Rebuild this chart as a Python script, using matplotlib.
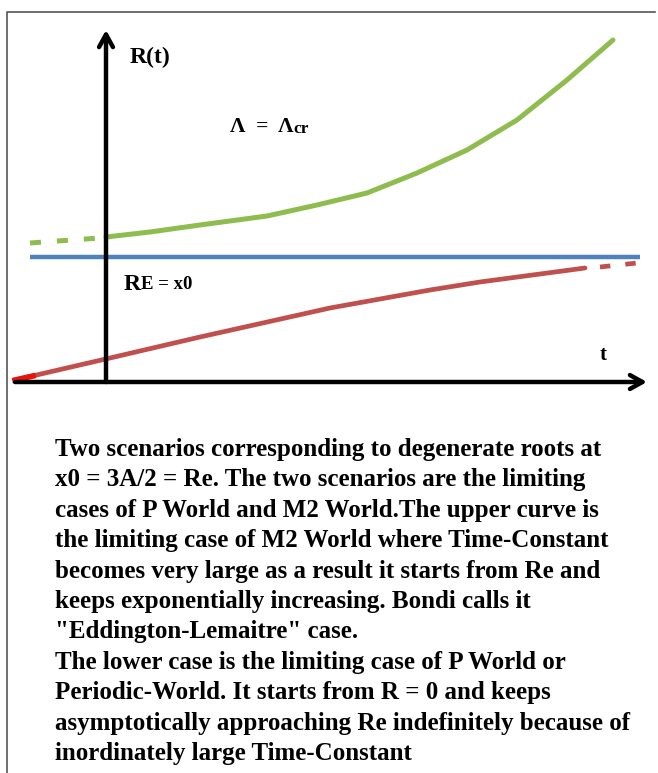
import matplotlib

matplotlib.use("Agg")
import matplotlib.pyplot as plt

plt.rcParams.update(
    {
        "font.family": ["Liberation Serif", "DejaVu Serif"],
        "font.weight": "bold",
    }
)

W, H = 658, 773

# diagram data (t, R) in arbitrary units, origin at the axis crossing
green_dash_t = [-76, -6]
green_dash_r = [139, 144]
green_t = [0, 44, 94, 161, 211, 261, 311, 361, 411, 461, 507]
green_r = [145, 150, 157, 166, 177, 189, 209, 232, 262, 302, 342]

blue_t = [-76, 534]
blue_r = [125, 125]

red_t = [-91, 4, 94, 224, 324, 374, 479]
red_r = [2, 24, 45, 74, 92, 100, 114]
red_dash_t = [494, 531]
red_dash_r = [115, 119]

caption = [
    "Two scenarios corresponding to degenerate roots at",
    "x0 = 3A/2 = Re. The two scenarios are the limiting",
    "cases of P World and M2 World.The upper curve is",
    "the limiting case of M2 World where Time-Constant",
    "becomes very large as a result it starts from Re and",
    "keeps exponentially increasing. Bondi calls it",
    "\"Eddington-Lemaitre\" case.",
    "The lower case is the limiting case of P World or",
    "Periodic-World. It starts from R = 0 and keeps",
    "asymptotically approaching Re indefinitely because of",
    "inordinately large Time-Constant",
]

GREEN = "#8fbc4f"
BLUE = "#4f81bd"
RED = "#c0504d"

fig = plt.figure(figsize=(W / 100, H / 100), dpi=100)

# background layer: frame + caption, in pixel units
bg = fig.add_axes([0, 0, 1, 1])
bg.set_xlim(0, W)
bg.set_ylim(H, 0)
bg.axis("off")
bg.plot([7, 7, 655], [H, 12, 12], color="#555555", lw=1.2)

for i, line in enumerate(caption):
    bg.text(55, 456 + i * 30.4, line, fontsize=18, fontweight="bold",
            va="baseline", ha="left", color="black")

# diagram layer
top_px = 400
ax = fig.add_axes([0, (H - top_px) / H, 1, top_px / H])
ax.set_xlim(-106, W - 106)
ax.set_ylim(382 - top_px, 382)
ax.axis("off")

ax.plot(blue_t, blue_r, color=BLUE, lw=3.2, solid_capstyle="butt")
ax.plot(green_t, green_r, color=GREEN, lw=3.6, solid_capstyle="round",
        solid_joinstyle="round")
ax.plot(green_dash_t, green_dash_r, color=GREEN, lw=3.6, dashes=(2.2, 3.2))
ax.plot(red_t, red_r, color=RED, lw=3.4, solid_capstyle="round",
        solid_joinstyle="round")
ax.plot(red_dash_t, red_dash_r, color=RED, lw=3.4, dashes=(2.2, 3.2))
ax.plot(red_t[:1] + [red_t[0] + 18], red_r[:1] + [red_r[0] + 4],
        color="#e8140c", lw=4)

# axes arrows
arrow = dict(arrowstyle="->,head_length=0.9,head_width=0.5", lw=3.2,
             color="black", shrinkA=0, shrinkB=0)
ax.annotate("", xy=(0, 352), xytext=(0, 0), arrowprops=arrow)
ax.annotate("", xy=(541, 0), xytext=(-91, 0), arrowprops=arrow)

ax.text(24, 325, "R(t)", fontsize=17, fontweight="bold", va="center")
lam = ax.text(124, 255, "Λ  =  Λ", fontsize=15.5, fontweight="bold",
              va="center")
ax.annotate("cr", xy=(1, 0), xycoords=lam, fontsize=12.5, fontweight="bold",
            va="bottom", ha="left")
re = ax.text(18, 98, "R", fontsize=17, fontweight="bold", va="center")
ax.annotate("E = x0", xy=(1, 0), xycoords=re, fontsize=13.5,
            fontweight="bold", va="bottom", ha="left", xytext=(0, 1),
            textcoords="offset points")
ax.text(494, 27, "t", fontsize=15, fontweight="bold", va="center")

fig.savefig("out.png", dpi=100)
